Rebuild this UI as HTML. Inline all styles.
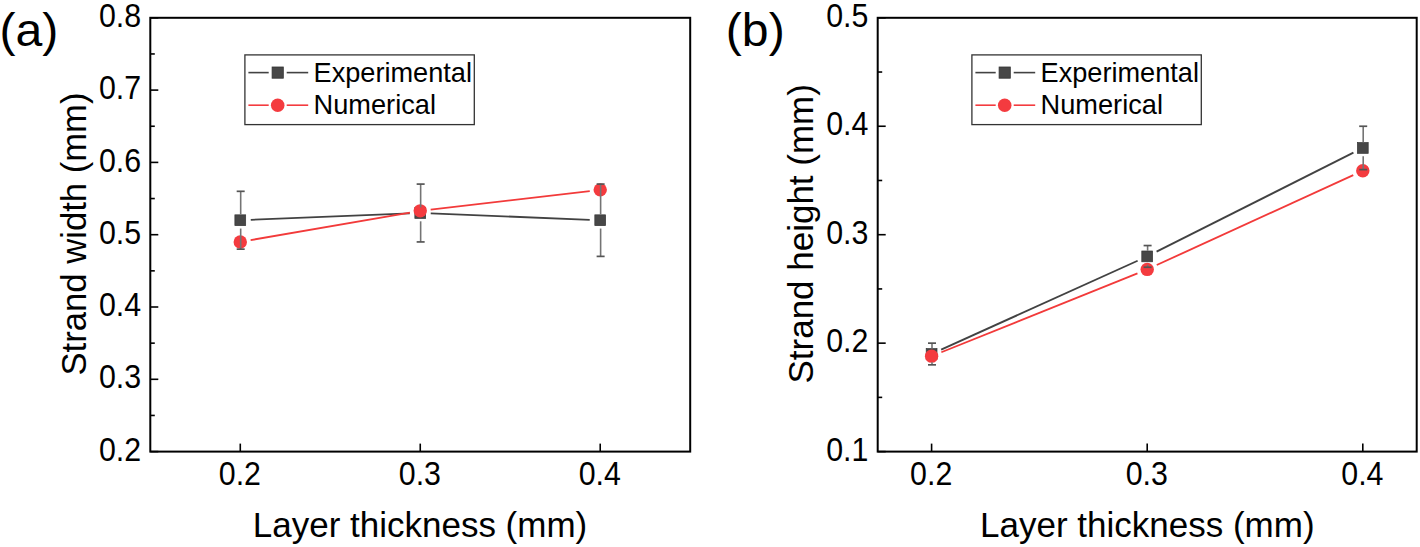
<!DOCTYPE html>
<html><head><meta charset="utf-8"><style>
html,body{margin:0;padding:0;background:#fff;}
svg{display:block;}
text{font-family:"Liberation Sans", sans-serif;fill:#000;}
</style></head><body>
<svg width="1420" height="547" viewBox="0 0 1420 547">
<rect width="1420" height="547" fill="#fff"/>
<line x1="250.77" y1="219.82" x2="409.76" y2="213.43" stroke="#424242" stroke-width="1.85"/>
<line x1="430.74" y1="213.43" x2="589.73" y2="219.82" stroke="#424242" stroke-width="1.85"/>
<line x1="250.63" y1="240.14" x2="409.90" y2="212.63" stroke="#F23A3A" stroke-width="1.85"/>
<line x1="430.68" y1="209.63" x2="589.79" y2="191.09" stroke="#F23A3A" stroke-width="1.85"/>
<rect x="234.88" y="214.84" width="10.8" height="10.8" fill="#474747" stroke="#363636" stroke-width="0.7"/>
<rect x="414.85" y="207.61" width="10.8" height="10.8" fill="#474747" stroke="#363636" stroke-width="0.7"/>
<rect x="594.82" y="214.84" width="10.8" height="10.8" fill="#474747" stroke="#363636" stroke-width="0.7"/>
<circle cx="240.28" cy="241.93" r="6.7" fill="#F43B3F"/>
<circle cx="420.25" cy="210.84" r="6.7" fill="#F43B3F"/>
<circle cx="600.22" cy="189.87" r="6.7" fill="#F43B3F"/>
<line x1="240.68" y1="191.32" x2="240.68" y2="214.64" stroke="#747474" stroke-width="1.6"/>
<line x1="240.68" y1="228.54" x2="240.68" y2="249.16" stroke="#747474" stroke-width="1.6"/>
<line x1="236.68" y1="191.32" x2="244.68" y2="191.32" stroke="#555" stroke-width="1.7"/>
<line x1="236.68" y1="249.16" x2="244.68" y2="249.16" stroke="#555" stroke-width="1.7"/>
<line x1="420.65" y1="184.09" x2="420.65" y2="207.41" stroke="#747474" stroke-width="1.6"/>
<line x1="420.65" y1="221.31" x2="420.65" y2="241.93" stroke="#747474" stroke-width="1.6"/>
<line x1="416.65" y1="184.09" x2="424.65" y2="184.09" stroke="#555" stroke-width="1.7"/>
<line x1="416.65" y1="241.93" x2="424.65" y2="241.93" stroke="#555" stroke-width="1.7"/>
<line x1="600.62" y1="184.09" x2="600.62" y2="214.64" stroke="#747474" stroke-width="1.6"/>
<line x1="600.62" y1="228.54" x2="600.62" y2="256.39" stroke="#747474" stroke-width="1.6"/>
<line x1="596.62" y1="184.09" x2="604.62" y2="184.09" stroke="#555" stroke-width="1.7"/>
<line x1="596.62" y1="256.39" x2="604.62" y2="256.39" stroke="#555" stroke-width="1.7"/>
<rect x="150.3" y="17.8" width="539.90" height="433.80" fill="none" stroke="#000" stroke-width="2"/>
<line x1="150.3" y1="451.60" x2="158.3" y2="451.60" stroke="#000" stroke-width="1.6"/>
<text transform="translate(141.14,460.71) scale(0.9400,1)" text-anchor="end" font-size="32.3">0.2</text>
<line x1="150.3" y1="379.30" x2="158.3" y2="379.30" stroke="#000" stroke-width="1.6"/>
<text transform="translate(141.14,388.41) scale(0.9400,1)" text-anchor="end" font-size="32.3">0.3</text>
<line x1="150.3" y1="307.00" x2="158.3" y2="307.00" stroke="#000" stroke-width="1.6"/>
<text transform="translate(141.14,316.11) scale(0.9400,1)" text-anchor="end" font-size="32.3">0.4</text>
<line x1="150.3" y1="234.70" x2="158.3" y2="234.70" stroke="#000" stroke-width="1.6"/>
<text transform="translate(141.14,243.81) scale(0.9400,1)" text-anchor="end" font-size="32.3">0.5</text>
<line x1="150.3" y1="162.40" x2="158.3" y2="162.40" stroke="#000" stroke-width="1.6"/>
<text transform="translate(141.14,171.51) scale(0.9400,1)" text-anchor="end" font-size="32.3">0.6</text>
<line x1="150.3" y1="90.10" x2="158.3" y2="90.10" stroke="#000" stroke-width="1.6"/>
<text transform="translate(141.14,99.21) scale(0.9400,1)" text-anchor="end" font-size="32.3">0.7</text>
<line x1="150.3" y1="17.80" x2="158.3" y2="17.80" stroke="#000" stroke-width="1.6"/>
<text transform="translate(141.14,26.91) scale(0.9400,1)" text-anchor="end" font-size="32.3">0.8</text>
<line x1="150.3" y1="415.45" x2="154.8" y2="415.45" stroke="#000" stroke-width="1.6"/>
<line x1="150.3" y1="343.15" x2="154.8" y2="343.15" stroke="#000" stroke-width="1.6"/>
<line x1="150.3" y1="270.85" x2="154.8" y2="270.85" stroke="#000" stroke-width="1.6"/>
<line x1="150.3" y1="198.55" x2="154.8" y2="198.55" stroke="#000" stroke-width="1.6"/>
<line x1="150.3" y1="126.25" x2="154.8" y2="126.25" stroke="#000" stroke-width="1.6"/>
<line x1="150.3" y1="53.95" x2="154.8" y2="53.95" stroke="#000" stroke-width="1.6"/>
<line x1="240.28" y1="451.6" x2="240.28" y2="443.6" stroke="#000" stroke-width="1.6"/>
<text transform="translate(239.88,485.21) scale(0.9400,1)" text-anchor="middle" font-size="32.3">0.2</text>
<line x1="420.25" y1="451.6" x2="420.25" y2="443.6" stroke="#000" stroke-width="1.6"/>
<text transform="translate(419.85,485.21) scale(0.9400,1)" text-anchor="middle" font-size="32.3">0.3</text>
<line x1="600.22" y1="451.6" x2="600.22" y2="443.6" stroke="#000" stroke-width="1.6"/>
<text transform="translate(599.82,485.21) scale(0.9400,1)" text-anchor="middle" font-size="32.3">0.4</text>
<text transform="translate(252.83,537.30) scale(0.9999,1)" text-anchor="start" font-size="35.0">Layer thickness (mm)</text>
<text transform="translate(86.00,375.59) rotate(-90) scale(0.9904,1)" text-anchor="start" font-size="35.0">Strand width (mm)</text>
<text transform="translate(-0.59,46.00) scale(1.0600,1)" text-anchor="start" font-size="45.5">(a)</text>
<rect x="244.90" y="54.9" width="229.4" height="69.7" fill="#fff" stroke="#333" stroke-width="1.3"/>
<line x1="248.40" y1="72.6" x2="268.70" y2="72.6" stroke="#424242" stroke-width="1.6"/>
<line x1="286.70" y1="72.6" x2="308.20" y2="72.6" stroke="#424242" stroke-width="1.6"/>
<line x1="248.40" y1="105.2" x2="268.70" y2="105.2" stroke="#F43B3F" stroke-width="1.6"/>
<line x1="286.70" y1="105.2" x2="308.20" y2="105.2" stroke="#F43B3F" stroke-width="1.6"/>
<rect x="272.10" y="67.0" width="11.2" height="11.2" fill="#474747" stroke="#333" stroke-width="0.8"/>
<circle cx="277.70" cy="105.2" r="6.8" fill="#F43B3F"/>
<text transform="translate(313.57,82.20) scale(0.9695,1)" text-anchor="start" font-size="28.0">Experimental</text>
<text transform="translate(313.57,114.30) scale(0.9716,1)" text-anchor="start" font-size="28.0">Numerical</text>
<line x1="941.17" y1="349.66" x2="1137.63" y2="260.72" stroke="#424242" stroke-width="1.85"/>
<line x1="1156.58" y1="251.67" x2="1353.42" y2="152.66" stroke="#424242" stroke-width="1.85"/>
<line x1="941.34" y1="352.24" x2="1137.46" y2="273.32" stroke="#F23A3A" stroke-width="1.85"/>
<line x1="1156.75" y1="265.03" x2="1353.25" y2="175.08" stroke="#F23A3A" stroke-width="1.85"/>
<rect x="926.20" y="348.60" width="10.8" height="10.8" fill="#474747" stroke="#363636" stroke-width="0.7"/>
<rect x="1141.80" y="250.99" width="10.8" height="10.8" fill="#474747" stroke="#363636" stroke-width="0.7"/>
<rect x="1357.40" y="142.54" width="10.8" height="10.8" fill="#474747" stroke="#363636" stroke-width="0.7"/>
<circle cx="931.60" cy="356.16" r="6.7" fill="#F43B3F"/>
<circle cx="1147.20" cy="269.40" r="6.7" fill="#F43B3F"/>
<circle cx="1362.80" cy="170.71" r="6.7" fill="#F43B3F"/>
<line x1="932.00" y1="343.15" x2="932.00" y2="348.39" stroke="#747474" stroke-width="1.6"/>
<line x1="932.00" y1="362.30" x2="932.00" y2="364.84" stroke="#747474" stroke-width="1.6"/>
<line x1="928.00" y1="343.15" x2="936.00" y2="343.15" stroke="#555" stroke-width="1.7"/>
<line x1="928.00" y1="364.84" x2="936.00" y2="364.84" stroke="#555" stroke-width="1.7"/>
<line x1="1147.60" y1="245.55" x2="1147.60" y2="250.79" stroke="#747474" stroke-width="1.6"/>
<line x1="1147.60" y1="264.69" x2="1147.60" y2="267.24" stroke="#747474" stroke-width="1.6"/>
<line x1="1143.60" y1="245.55" x2="1151.60" y2="245.55" stroke="#555" stroke-width="1.7"/>
<line x1="1143.60" y1="267.24" x2="1151.60" y2="267.24" stroke="#555" stroke-width="1.7"/>
<line x1="1363.20" y1="126.25" x2="1363.20" y2="142.34" stroke="#747474" stroke-width="1.6"/>
<line x1="1363.20" y1="156.24" x2="1363.20" y2="169.63" stroke="#747474" stroke-width="1.6"/>
<line x1="1359.20" y1="126.25" x2="1367.20" y2="126.25" stroke="#555" stroke-width="1.7"/>
<line x1="1359.20" y1="169.63" x2="1367.20" y2="169.63" stroke="#555" stroke-width="1.7"/>
<rect x="877.7" y="17.8" width="539.00" height="433.80" fill="none" stroke="#000" stroke-width="2"/>
<line x1="877.7" y1="451.60" x2="885.7" y2="451.60" stroke="#000" stroke-width="1.6"/>
<text transform="translate(868.44,460.71) scale(0.9400,1)" text-anchor="end" font-size="32.3">0.1</text>
<line x1="877.7" y1="343.15" x2="885.7" y2="343.15" stroke="#000" stroke-width="1.6"/>
<text transform="translate(868.44,352.26) scale(0.9400,1)" text-anchor="end" font-size="32.3">0.2</text>
<line x1="877.7" y1="234.70" x2="885.7" y2="234.70" stroke="#000" stroke-width="1.6"/>
<text transform="translate(868.44,243.81) scale(0.9400,1)" text-anchor="end" font-size="32.3">0.3</text>
<line x1="877.7" y1="126.25" x2="885.7" y2="126.25" stroke="#000" stroke-width="1.6"/>
<text transform="translate(868.44,135.36) scale(0.9400,1)" text-anchor="end" font-size="32.3">0.4</text>
<line x1="877.7" y1="17.80" x2="885.7" y2="17.80" stroke="#000" stroke-width="1.6"/>
<text transform="translate(868.44,26.91) scale(0.9400,1)" text-anchor="end" font-size="32.3">0.5</text>
<line x1="877.7" y1="397.38" x2="882.2" y2="397.38" stroke="#000" stroke-width="1.6"/>
<line x1="877.7" y1="288.93" x2="882.2" y2="288.93" stroke="#000" stroke-width="1.6"/>
<line x1="877.7" y1="180.48" x2="882.2" y2="180.48" stroke="#000" stroke-width="1.6"/>
<line x1="877.7" y1="72.03" x2="882.2" y2="72.03" stroke="#000" stroke-width="1.6"/>
<line x1="931.60" y1="451.6" x2="931.60" y2="443.6" stroke="#000" stroke-width="1.6"/>
<text transform="translate(931.20,485.21) scale(0.9400,1)" text-anchor="middle" font-size="32.3">0.2</text>
<line x1="1147.20" y1="451.6" x2="1147.20" y2="443.6" stroke="#000" stroke-width="1.6"/>
<text transform="translate(1146.80,485.21) scale(0.9400,1)" text-anchor="middle" font-size="32.3">0.3</text>
<line x1="1362.80" y1="451.6" x2="1362.80" y2="443.6" stroke="#000" stroke-width="1.6"/>
<text transform="translate(1362.40,485.21) scale(0.9400,1)" text-anchor="middle" font-size="32.3">0.4</text>
<text transform="translate(980.03,537.30) scale(1.0002,1)" text-anchor="start" font-size="35.0">Layer thickness (mm)</text>
<text transform="translate(812.90,383.51) rotate(-90) scale(0.9995,1)" text-anchor="start" font-size="35.0">Strand height (mm)</text>
<text transform="translate(725.81,46.00) scale(1.0600,1)" text-anchor="start" font-size="45.5">(b)</text>
<rect x="971.90" y="54.9" width="229.4" height="69.7" fill="#fff" stroke="#333" stroke-width="1.3"/>
<line x1="975.40" y1="72.6" x2="995.70" y2="72.6" stroke="#424242" stroke-width="1.6"/>
<line x1="1013.70" y1="72.6" x2="1035.20" y2="72.6" stroke="#424242" stroke-width="1.6"/>
<line x1="975.40" y1="105.2" x2="995.70" y2="105.2" stroke="#F43B3F" stroke-width="1.6"/>
<line x1="1013.70" y1="105.2" x2="1035.20" y2="105.2" stroke="#F43B3F" stroke-width="1.6"/>
<rect x="999.10" y="67.0" width="11.2" height="11.2" fill="#474747" stroke="#333" stroke-width="0.8"/>
<circle cx="1004.70" cy="105.2" r="6.8" fill="#F43B3F"/>
<text transform="translate(1040.57,82.20) scale(0.9695,1)" text-anchor="start" font-size="28.0">Experimental</text>
<text transform="translate(1040.57,114.30) scale(0.9716,1)" text-anchor="start" font-size="28.0">Numerical</text>
</svg>
</body></html>
